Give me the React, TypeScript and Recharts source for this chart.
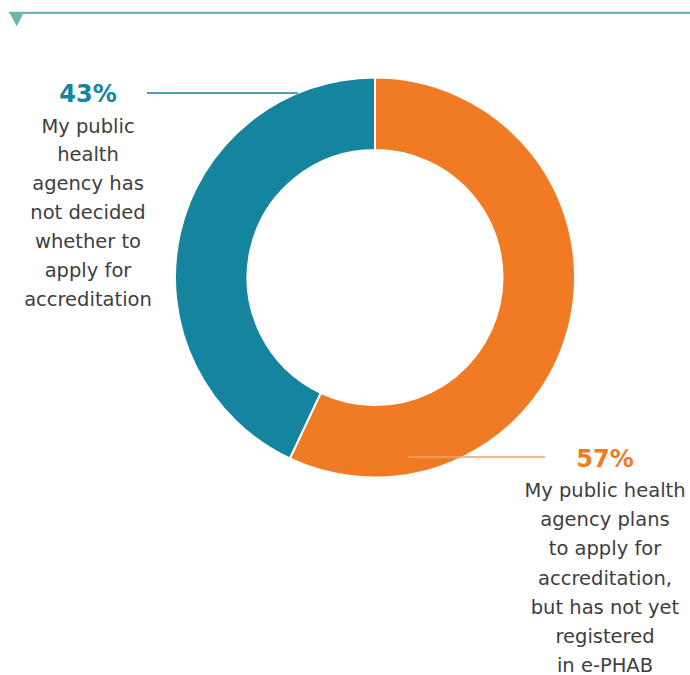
import { PieChart, Pie, Cell } from 'recharts';

// shares of respondents, clockwise from 12 o'clock
const categories = ['plans', 'undecided'];
const values = [57, 43];
const colors = ['#f17b25', '#15849f'];
const lineColors = ['#f5a56b', '#15849f'];

const labelTexts = [
  [
    'My public health',
    'agency plans',
    'to apply for',
    'accreditation,',
    'but has not yet',
    'registered',
    'in e-PHAB',
  ],
  [
    'My public',
    'health',
    'agency has',
    'not decided',
    'whether to',
    'apply for',
    'accreditation',
  ],
];

const data = categories.map((name, i) => ({ name, value: values[i] }));

const FONT = '"DejaVu Sans", sans-serif';

const renderLabel = (props: any) => {
  const { cx, cy, outerRadius, index, value } = props;
  const right = index === 0;
  // leader line height relative to the centre
  const dy = right ? 179.5 : -184.5;
  const ly = cy + dy;
  const edgeX = Math.sqrt(outerRadius * outerRadius - dy * dy);
  const x1 = right ? cx + edgeX - 55 : cx - edgeX;
  const x2 = right ? cx + 170 : cx - 228;
  const tx = right ? cx + 230 : cx - 287;
  const pctY = right ? ly + 10 : ly + 9;
  const firstY = pctY + (right ? 30 : 30.5);
  const step = right ? 29.2 : 28.9;
  return (
    <g key={`lbl-${index}`}>
      <line x1={x1} y1={ly} x2={x2} y2={ly} stroke={lineColors[index]} strokeWidth={1.4} />
      <text x={tx} y={pctY} textAnchor="middle" fill={colors[index]} fontFamily={FONT} fontWeight="bold" fontSize={24}>
        {`${value}%`}
      </text>
      {labelTexts[index].map((t, j) => (
        <text key={j} x={tx} y={firstY + j * step} textAnchor="middle" fill="#3e3e3e" fontFamily={FONT} fontSize={19.5}>
          {t}
        </text>
      ))}
    </g>
  );
};

const App = () => {
  return (
    <div style={{ position: 'fixed', top: 0, left: 0, width: 690, height: 675, background: '#fff' }}>
      <svg width={690} height={30} style={{ position: 'absolute', top: 0, left: 0 }}>
        <line x1={9} y1={12.8} x2={690} y2={12.8} stroke="#6cb6ad" strokeWidth={2.2} />
        <polygon points="9.3,12 24,12 16.7,26.5" fill="#6cb6ad" />
      </svg>
      <PieChart
        width={690}
        height={675}
        margin={{ top: 0, right: 0, bottom: 0, left: 0 }}
        style={{ position: 'absolute', top: 0, left: 0 }}
      >
        <Pie
          data={data}
          dataKey="value"
          nameKey="name"
          cx={375}
          cy={277.5}
          innerRadius={127.5}
          outerRadius={200}
          startAngle={90}
          endAngle={-270}
          stroke="#ffffff"
          strokeWidth={2}
          label={renderLabel}
          labelLine={false}
          isAnimationActive={false}
        >
          {data.map((d, i) => (
            <Cell key={d.name} fill={colors[i]} />
          ))}
        </Pie>
      </PieChart>
    </div>
  );
};

export default App;
